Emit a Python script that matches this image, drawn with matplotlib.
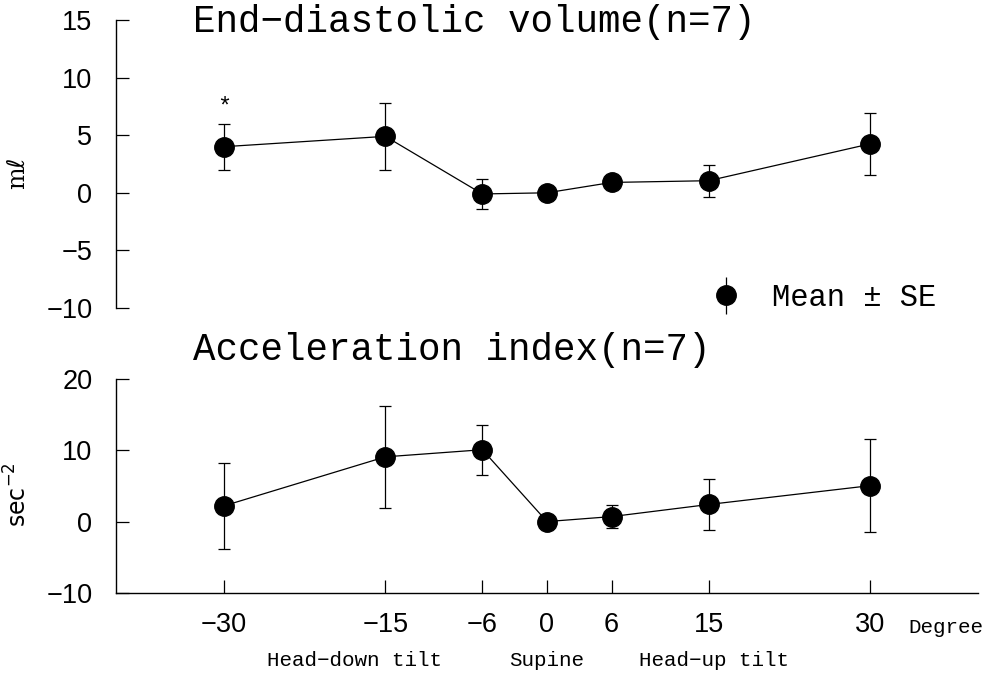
import numpy as np
import matplotlib
matplotlib.use("Agg")
import matplotlib.pyplot as plt
from matplotlib.legend_handler import HandlerErrorbar

# tilt angle (degree)
degree = [-30, -15, -6, 0, 6, 15, 30]
xtick_labels = ["−30", "−15", "−6", "0", "6", "15", "30"]

# End-diastolic volume change (ml), mean and SE
edv_mean = [4.0, 4.9, -0.1, 0.0, 0.9, 1.05, 4.25]
edv_se = [2.0, 2.9, 1.3, 0.0, 0.0, 1.4, 2.7]

# Acceleration index change (sec^-2), mean and SE
acc_mean = [2.2, 9.1, 10.1, 0.0, 0.7, 2.4, 5.05]
acc_se = [6.1, 7.2, 3.5, 0.0, 1.6, 3.6, 6.5]

W, H = 992, 673
tick_font = "Liberation Sans"
mono = "Liberation Mono"

fig = plt.figure(figsize=(W / 100, H / 100), dpi=100)
ax1 = fig.add_axes([116 / W, 1 - 308 / H, 862 / W, 288 / H])
ax2 = fig.add_axes([116 / W, 1 - 592.7 / H, 862 / W, 213.4 / H])

style = dict(fmt="-o", color="black", ms=14, lw=0.9, elinewidth=0.9,
             capsize=4.5, capthick=0.9)

ax1.errorbar(degree, edv_mean, yerr=edv_se, **style)
ax2.errorbar(degree, acc_mean, yerr=acc_se, **style)

for ax in (ax1, ax2):
    ax.set_xlim(-40, 40)
    for s in ("top", "right"):
        ax.spines[s].set_visible(False)
    ax.spines["left"].set_linewidth(1.0)
    ax.tick_params(direction="in", length=9.5, width=0.9, labelsize=19.5, pad=14)

ax1.spines["bottom"].set_visible(False)
ax1.set_ylim(-10, 15)
ax1.set_yticks([-10, -5, 0, 5, 10, 15])
ax1.tick_params(axis="x", bottom=False, labelbottom=False)
ax1.tick_params(axis="y", pad=17)

ax2.set_ylim(-10, 20)
ax2.set_yticks([-10, 0, 10, 20])
ax2.tick_params(axis="y", pad=17)
ax2.spines["bottom"].set_linewidth(1.0)
ax2.set_xticks(degree)
ax2.set_xticklabels(xtick_labels, fontfamily=tick_font, fontsize=19.5)

for ax in (ax1, ax2):
    for lab in ax.get_yticklabels():
        lab.set_fontfamily(tick_font)

# titles
ax1.text(0.089, 0.993, "End−diastolic volume(n=7)", transform=ax1.transAxes,
         ha="left", va="center", fontsize=27, fontfamily=mono)
ax2.text(0.089, 1.137, "Acceleration index(n=7)", transform=ax2.transAxes,
         ha="left", va="center", fontsize=27, fontfamily=mono)

# y labels
ax1.text(-0.114, 0.47, "mℓ", transform=ax1.transAxes, rotation=90,
         ha="center", va="center", fontsize=17,
         family=["DejaVu Serif", "DejaVu Sans"])
ax2.text(-0.114, 0.458, "sec$^{-2}$", transform=ax2.transAxes, rotation=90,
         ha="center", va="center", fontsize=17)

# significance mark
ax1.annotate("*", xy=(degree[0], edv_mean[0] + edv_se[0]), xytext=(0, 4),
             textcoords="offset points", ha="center", va="bottom",
             fontsize=17, fontfamily=mono)

# x-axis annotations
ax2.text(0.919, -0.165, "Degree", transform=ax2.transAxes, ha="left",
         va="center", fontsize=15, fontfamily=mono)
for xf, txt in [(0.277, "Head−down tilt"), (0.5, "Supine"), (0.694, "Head−up tilt")]:
    ax2.text(xf, -0.32, txt, transform=ax2.transAxes, ha="center",
             va="center", fontsize=15, fontfamily=mono)

# legend
proxy = ax1.errorbar([], [], yerr=[], fmt="o", color="black", ms=14,
                     elinewidth=0.9, capsize=4.5, capthick=0.9)
leg = ax1.legend([proxy], ["Mean ± SE"], loc="center left",
                 bbox_to_anchor=(0.658, 0.035), frameon=False,
                 prop=dict(family=mono, size=22), handlelength=1.0,
                 handletextpad=1.0,
                 handler_map={type(proxy): HandlerErrorbar(yerr_size=0.6)})

fig.savefig("out.png", dpi=100)
